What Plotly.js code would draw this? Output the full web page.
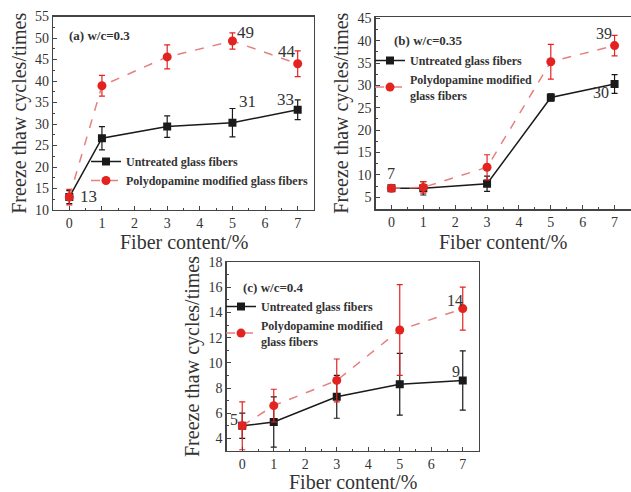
<!DOCTYPE html>
<html>
<head>
<meta charset="utf-8">
<script src="https://cdn.plot.ly/plotly-3.0.1.min.js"></script>
<style>html,body{margin:0;padding:0;background:#fff;}#chart{width:631px;height:492px;}</style>
</head>
<body>
<div id="chart"></div>
<script>
// ---- data ----
var fiberContent = [0, 1, 3, 5, 7];

var aUntreated = [13, 26.7, 29.4, 30.3, 33.3];
var aUntreatedErr = [1.5, 2.7, 2.5, 3.3, 2.3];
var aModified = [13, 38.9, 45.6, 49.3, 44];
var aModifiedErr = [1.8, 2.4, 2.8, 1.9, 3.0];

var bUntreated = [7, 7, 8, 27.3, 30.3];
var bUntreatedErr = [0.6, 1.5, 1.7, 0.8, 2.1];
var bModified = [7, 7.2, 11.7, 35.3, 38.9];
var bModifiedErr = [0.6, 1.3, 2.8, 3.9, 2.3];

var cUntreated = [5, 5.3, 7.3, 8.3, 8.6];
var cUntreatedErr = [1.0, 2.0, 1.7, 2.45, 2.35];
var cModified = [5, 6.6, 8.6, 12.6, 14.3];
var cModifiedErr = [1.9, 1.3, 1.7, 3.6, 1.7];

var panelTitles = ["(a) w/c=0.3", "(b) w/c=0.35", "(c) w/c=0.4"];
var xTitle = "Fiber content/%";
var yTitle = "Freeze thaw cycles/times";
var nameUntreated = "Untreated glass fibers";
var nameModifiedLong = "Polydopamine modified glass fibers";
var nameModifiedWrapped = "Polydopamine modified<br>glass fibers";

// value labels: [series, pointIndex, text]
var aLabels = [["u", 0, "13"], ["u", 3, "31"], ["u", 4, "33"], ["m", 3, "49"], ["m", 4, "44"]];
var bLabels = [["u", 0, "7"], ["m", 4, "39"], ["u", 4, "30"]];
var cLabels = [["u", 0, "5"], ["u", 4, "9"], ["m", 4, "14"]];

// ---- styles ----
var serif = "Liberation Serif, Times New Roman, serif";
var txtColor = "#333";
var blackCol = "#1a1a1a";
var redMarker = "#e3231f";
var redLine = "#e58080";

function untreatedTrace(y, err, xa, ya, lg, name) {
  return {
    x: fiberContent, y: y, xaxis: xa, yaxis: ya, legend: lg, name: name,
    type: "scatter", mode: "lines+markers",
    line: {color: blackCol, width: 1.5},
    marker: {symbol: "square", size: 8, color: blackCol},
    error_y: {type: "data", array: err, visible: true, color: blackCol, thickness: 1.2, width: 3}
  };
}
function modifiedTrace(y, err, xa, ya, lg, name) {
  return {
    x: fiberContent, y: y, xaxis: xa, yaxis: ya, legend: lg, name: name,
    type: "scatter", mode: "lines+markers",
    line: {color: redLine, width: 1.5, dash: "dash"},
    marker: {symbol: "circle", size: 9, color: redMarker},
    error_y: {type: "data", array: err, visible: true, color: redMarker, thickness: 1.2, width: 3}
  };
}

var data = [
  untreatedTrace(aUntreated, aUntreatedErr, "x", "y", "legend", nameUntreated),
  modifiedTrace(aModified, aModifiedErr, "x", "y", "legend", nameModifiedLong),
  untreatedTrace(bUntreated, bUntreatedErr, "x2", "y2", "legend2", nameUntreated),
  modifiedTrace(bModified, bModifiedErr, "x2", "y2", "legend2", nameModifiedWrapped),
  untreatedTrace(cUntreated, cUntreatedErr, "x3", "y3", "legend3", nameUntreated),
  modifiedTrace(cModified, cModifiedErr, "x3", "y3", "legend3", nameModifiedWrapped)
];

var W = 631, H = 492;
function xd(l, r) { return [l / W, r / W]; }
function yd(b, t) { return [1 - b / H, 1 - t / H]; }

function xAxis(domain, anchor) {
  return {
    domain: domain, anchor: anchor, range: [-0.5, 7.5],
    tick0: 0, dtick: 1,
    showline: true, mirror: true, linecolor: "#444", linewidth: 1.2,
    ticks: "inside", ticklen: 4, tickcolor: "#444", tickwidth: 1,
    minor: {ticks: "inside", ticklen: 2, tickcolor: "#444", dtick: 0.5, showgrid: false},
    showgrid: false, zeroline: false,
    tickfont: {family: serif, size: 14, color: txtColor}
  };
}
function yAxis(domain, anchor, range, dtick) {
  return {
    domain: domain, anchor: anchor, range: range, dtick: dtick, tick0: 0,
    showline: true, mirror: true, linecolor: "#444", linewidth: 1.2,
    ticks: "inside", ticklen: 4, tickcolor: "#444", tickwidth: 1,
    minor: {ticks: "inside", ticklen: 2, tickcolor: "#444", dtick: dtick / 2, showgrid: false},
    showgrid: false, zeroline: false,
    tickfont: {family: serif, size: 14, color: txtColor},
    title: {text: yTitle, font: {family: serif, size: 20, color: txtColor}, standoff: 3}
  };
}

var legendBase = {
  bgcolor: "rgba(0,0,0,0)", borderwidth: 0,
  font: {family: serif, size: 12, color: txtColor, weight: "bold"},
  xanchor: "left", yanchor: "top", tracegroupgap: 0, itemwidth: 30
};
function legendAt(xpx, ypx) {
  var o = JSON.parse(JSON.stringify(legendBase));
  o.x = xpx / W; o.y = 1 - ypx / H;
  return o;
}

var annotations = [];
function addPaperText(txt, xpx, ypx, anchor, size) {
  annotations.push({
    text: txt, xref: "paper", yref: "paper",
    x: xpx / W, y: 1 - ypx / H, xanchor: anchor, yanchor: "middle",
    showarrow: false, font: {family: serif, size: size, color: txtColor}
  });
}
addPaperText("<b>" + panelTitles[0] + "</b>", 67, 35, "left", 13);
addPaperText("<b>" + panelTitles[1] + "</b>", 392, 40, "left", 13);
addPaperText("<b>" + panelTitles[2] + "</b>", 241, 287, "left", 13);
addPaperText(xTitle, 183.5, 241.5, "center", 20);
addPaperText(xTitle, 503, 242, "center", 20);
addPaperText(xTitle, 352.5, 482, "center", 20);

function addLabels(labels, uArr, mArr, xa, ya, shifts, size) {
  labels.forEach(function (l, i) {
    var arr = l[0] === "u" ? uArr : mArr;
    annotations.push({
      text: l[2], x: fiberContent[l[1]], y: arr[l[1]], xref: xa, yref: ya,
      showarrow: false, xshift: shifts[i][0], yshift: shifts[i][1],
      font: {family: serif, size: size, color: txtColor}
    });
  });
}
addLabels(aLabels, aUntreated, aModified, "x", "y", [[19, 1], [15, 21], [-12, 10], [13, 9], [-11, 12]], 17);
addLabels(bLabels, bUntreated, bModified, "x2", "y2", [[0, 15], [-11, 12], [-14, -8]], 16);
addLabels(cLabels, cUntreated, cModified, "x3", "y3", [[-8, 6], [-7, 9], [-8, 8]], 16);

var layout = {
  width: W, height: H,
  margin: {l: 0, r: 0, t: 0, b: 0},
  paper_bgcolor: "#fff", plot_bgcolor: "#fff",
  showlegend: true,
  xaxis: xAxis(xd(53, 314), "y"),
  yaxis: yAxis(yd(210, 16.5), "x", [10, 55], 5),
  xaxis2: xAxis(xd(375.5, 630.5), "y2"),
  yaxis2: yAxis(yd(209.3, 17), "x2", [2.3, 45.3], 5),
  xaxis3: xAxis(xd(226.5, 478.5), "y3"),
  yaxis3: yAxis(yd(451, 262), "x3", [3, 18], 2),
  legend: legendAt(86, 147),
  legend2: legendAt(370, 46),
  legend3: legendAt(221, 292),
  annotations: annotations
};

Plotly.newPlot("chart", data, layout, {displayModeBar: false, staticPlot: true});
</script>
</body>
</html>
